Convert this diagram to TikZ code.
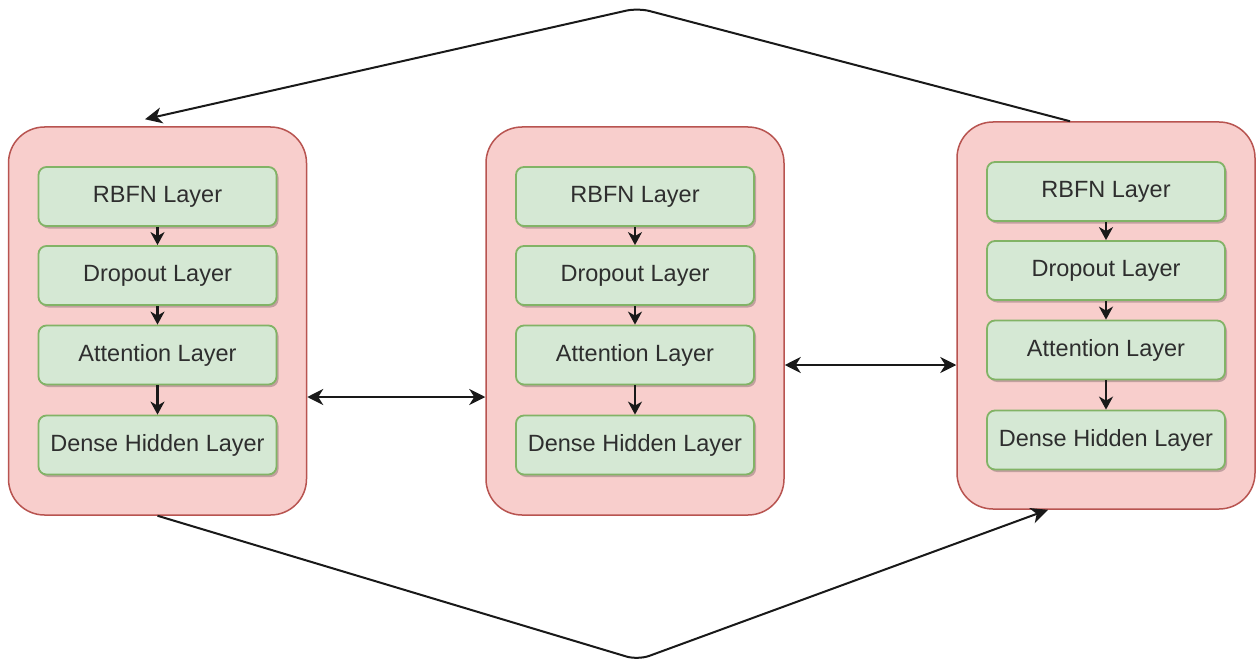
\documentclass[tikz,border=0pt]{standalone}
\usepackage{fontspec}
\setmainfont{Liberation Sans}
\usetikzlibrary{arrows.meta,calc,shadows,positioning}
\definecolor{outfill}{HTML}{F8CECC}
\definecolor{outdraw}{HTML}{B85450}
\definecolor{infill}{HTML}{D5E8D4}
\definecolor{indraw}{HTML}{82B366}
\tikzset{
  outerbox/.style={draw=outdraw, fill=outfill, line width=1.5pt, rounded corners=36pt,
    minimum width=298pt, minimum height=388pt, inner sep=0pt},
  layerbox/.style={draw=indraw, fill=infill, line width=1.8pt, rounded corners=8pt,
    minimum width=238pt, minimum height=59pt, inner sep=0pt, text=black!82,
    font=\fontsize{23.5}{28}\selectfont,
    drop shadow={shadow xshift=2pt, shadow yshift=-2.5pt, opacity=0.22, fill=black}},
  flow/.style={line width=2.2pt, black!90, -{Stealth[length=13pt,width=14pt,inset=4pt]}},
  biflow/.style={line width=2.2pt, black!90, {Stealth[length=16pt,width=16pt,inset=5pt]}-{Stealth[length=16pt,width=16pt,inset=5pt]}},
  loop/.style={line width=2pt, black!90, rounded corners=12pt, -{Stealth[length=17pt,width=16pt,inset=5pt]}}
}
\begin{document}
\begin{tikzpicture}[x=1pt,y=-1pt]
\useasboundingbox[fill=white] (0,0) rectangle (1258,666);
% outer boxes
\node[outerbox] (L) at (157.5,321) {};
\node[outerbox] (M) at (635,321) {};
\node[outerbox, minimum height=387pt] (R) at (1106,315.5) {};
% left column
\node[layerbox] (L1) at (157.5,196.5) {RBFN Layer};
\node[layerbox] (L2) at (157.5,275.5) {Dropout Layer};
\node[layerbox] (L3) at (157.5,355) {Attention Layer};
\node[layerbox] (L4) at (157.5,445) {Dense Hidden Layer};
% middle column
\node[layerbox] (M1) at (635,196.5) {RBFN Layer};
\node[layerbox] (M2) at (635,275.5) {Dropout Layer};
\node[layerbox] (M3) at (635,355) {Attention Layer};
\node[layerbox] (M4) at (635,445) {Dense Hidden Layer};
% right column
\node[layerbox] (R1) at (1106,191.5) {RBFN Layer};
\node[layerbox] (R2) at (1106,270.5) {Dropout Layer};
\node[layerbox] (R3) at (1106,350) {Attention Layer};
\node[layerbox] (R4) at (1106,440) {Dense Hidden Layer};
% inner arrows
\foreach \c in {L,M,R}{
  \draw[flow] (\c1.south) -- (\c2.north);
  \draw[flow] (\c2.south) -- (\c3.north);
  \draw[flow] (\c3.south) -- (\c4.north);
}
% links between columns
\coordinate (ya) at (0,397);
\coordinate (yb) at (0,365);
\draw[biflow] (L.east |- ya) -- (M.west |- ya);
\draw[biflow] (M.east |- yb) -- (R.west |- yb);
% loops
\coordinate (top) at (638,8);
\coordinate (bot) at (638,660);
\draw[loop] ($(R.north)+(-36,0)$) -- (top) -- ($(L.north)+(-12.5,-7)$);
\draw[loop] (L.south) -- (bot) -- ($(R.south)+(-58,0)$);
\end{tikzpicture}
\end{document}
